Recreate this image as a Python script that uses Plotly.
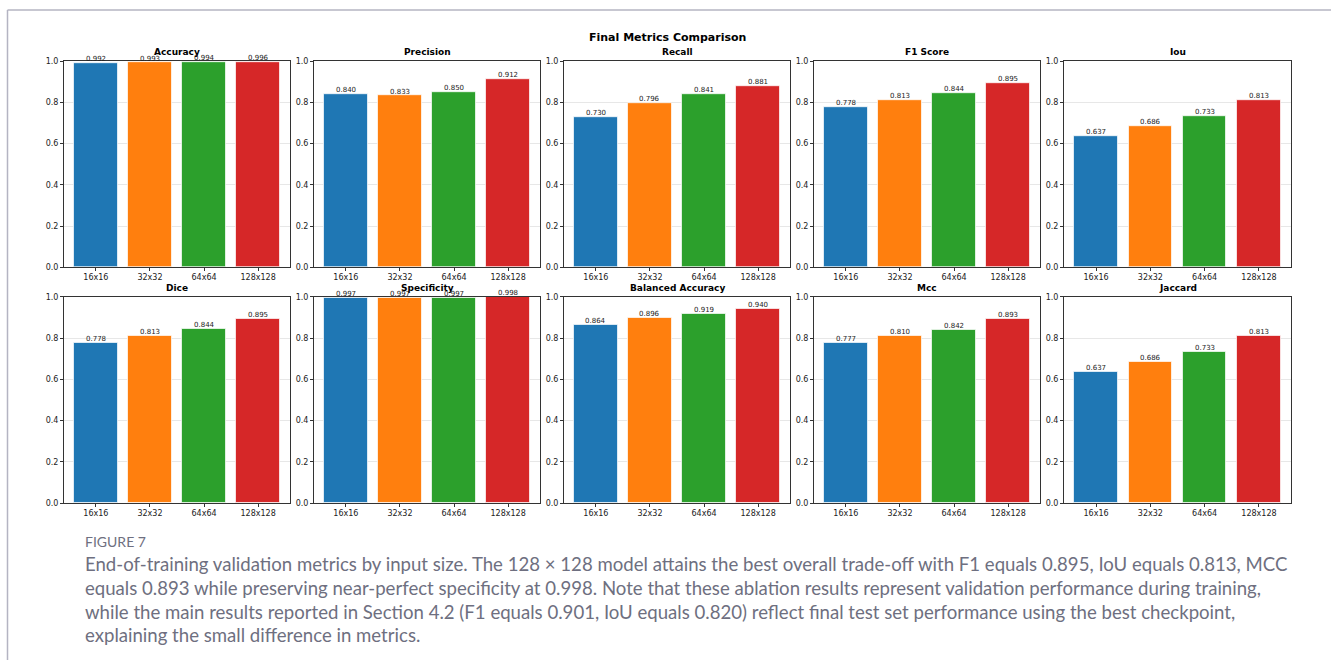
import plotly.graph_objects as go

W, H = 1331, 665

sizes = ["16x16", "32x32", "64x64", "128x128"]
bar_colors = ["#1f77b4", "#ff7f0e", "#2ca02c", "#d62728"]

metric_names = ["Accuracy", "Precision", "Recall", "F1 Score", "Iou",
                "Dice", "Specificity", "Balanced Accuracy", "Mcc", "Jaccard"]

accuracy = [0.992, 0.993, 0.994, 0.996]
precision = [0.840, 0.833, 0.850, 0.912]
recall = [0.730, 0.796, 0.841, 0.881]
f1_score = [0.778, 0.813, 0.844, 0.895]
iou = [0.637, 0.686, 0.733, 0.813]
dice = [0.778, 0.813, 0.844, 0.895]
specificity = [0.997, 0.997, 0.997, 0.998]
balanced_accuracy = [0.864, 0.896, 0.919, 0.940]
mcc = [0.777, 0.810, 0.842, 0.893]
jaccard = [0.637, 0.686, 0.733, 0.813]

metric_values = [accuracy, precision, recall, f1_score, iou,
                 dice, specificity, balanced_accuracy, mcc, jaccard]

y_ticks = [0.0, 0.2, 0.4, 0.6, 0.8, 1.0]

caption_head = "FIGURE 7"
caption_lines = [
    "End-of-training validation metrics by input size. The 128 \u00d7 128 model attains the best overall trade-off with F1 equals 0.895, IoU equals 0.813, MCC",
    "equals 0.893 while preserving near-perfect specificity at 0.998. Note that these ablation results represent validation performance during training,",
    "while the main results reported in Section 4.2 (F1 equals 0.901, IoU equals 0.820) reflect final test set performance using the best checkpoint,",
    "explaining the small difference in metrics.",
]

# pixel layout of the 2 x 5 panel grid
col_px = [(64, 290), (314, 540), (564, 790), (814, 1040), (1064, 1291)]
row_px = [(58, 267), (297, 506)]


def px_x(v):
    return v / W


def px_y(v):
    return 1 - v / H


fig = go.Figure()
layout_axes = {}
annotations = []
MPL = "DejaVu Sans"

for i, (name, vals) in enumerate(zip(metric_names, metric_values)):
    r, c = divmod(i, 5)
    n = i + 1
    xa = "x" if n == 1 else f"x{n}"
    ya = "y" if n == 1 else f"y{n}"
    fig.add_trace(go.Bar(
        x=sizes, y=vals, xaxis=xa, yaxis=ya,
        marker=dict(color=bar_colors, line=dict(color="rgba(255,255,255,0.7)", width=1)),
        width=0.8,
        showlegend=False,
        hoverinfo="x+y",
    ))
    # value labels sitting on top of each bar
    for s, v in zip(sizes, vals):
        annotations.append(dict(
            text=f"{v:.3f}", xref=xa, yref=ya, x=s, y=v,
            xanchor="center", yanchor="bottom", showarrow=False, yshift=-2,
            font=dict(family=MPL, size=7, color="#222"),
        ))
    x0, x1 = col_px[c]
    y0, y1 = row_px[r]
    layout_axes[("xaxis" if n == 1 else f"xaxis{n}")] = dict(
        domain=[px_x(x0), px_x(x1)], anchor=ya, range=[-0.59, 3.59],
        showline=True, mirror=True, linecolor="#333", linewidth=1,
        ticks="outside", ticklen=3, tickcolor="#333", ticklabelstandoff=-1,
        tickfont=dict(family=MPL, size=8, color="#222"),
        showgrid=False, zeroline=False, fixedrange=True,
    )
    layout_axes[("yaxis" if n == 1 else f"yaxis{n}")] = dict(
        domain=[px_y(y1), px_y(y0)], anchor=xa, range=[0, 1.0],
        tickvals=y_ticks, ticktext=[f"{t:.1f}" for t in y_ticks],
        showline=True, mirror=True, linecolor="#333", linewidth=1,
        ticks="outside", ticklen=3, tickcolor="#333",
        tickfont=dict(family=MPL, size=8, color="#222"),
        showgrid=True, gridcolor="rgba(176,176,176,0.3)", gridwidth=1,
        zeroline=False, fixedrange=True,
    )
    annotations.append(dict(
        text=f"<b>{name}</b>", xref="paper", yref="paper",
        x=px_x((x0 + x1) / 2), y=px_y(y0 - 2), xanchor="center", yanchor="bottom",
        showarrow=False, font=dict(family=MPL, size=9, color="#000"),
    ))

annotations.append(dict(
    text="<b>Final Metrics Comparison</b>", xref="paper", yref="paper",
    x=px_x(668), y=px_y(34), xanchor="center", yanchor="middle",
    showarrow=False, font=dict(family=MPL, size=11, color="#000"),
))

cap_color = "#6e6f80"
annotations.append(dict(
    text=caption_head, xref="paper", yref="paper",
    x=px_x(83), y=px_y(545), xanchor="left", yanchor="middle",
    showarrow=False, font=dict(family="Lato", size=14, color=cap_color),
))
for k, line in enumerate(caption_lines):
    annotations.append(dict(
        text=line, xref="paper", yref="paper",
        x=px_x(83), y=px_y(568 + k * 24), xanchor="left", yanchor="middle",
        showarrow=False, font=dict(family="Lato", size=18.6, color=cap_color),
    ))

shapes = [
    dict(type="line", xref="paper", yref="paper",
         x0=px_x(7.5), x1=1, y0=px_y(6), y1=px_y(6),
         line=dict(color="#b4b4c2", width=1.5)),
    dict(type="line", xref="paper", yref="paper",
         x0=px_x(7.5), x1=px_x(7.5), y0=px_y(6), y1=0,
         line=dict(color="#b4b4c2", width=1.5)),
]

fig.update_layout(
    width=W, height=H,
    margin=dict(l=0, r=0, t=0, b=0),
    paper_bgcolor="white", plot_bgcolor="white",
    bargap=0, annotations=annotations, shapes=shapes,
    **layout_axes,
)

fig.write_html("out.html")
